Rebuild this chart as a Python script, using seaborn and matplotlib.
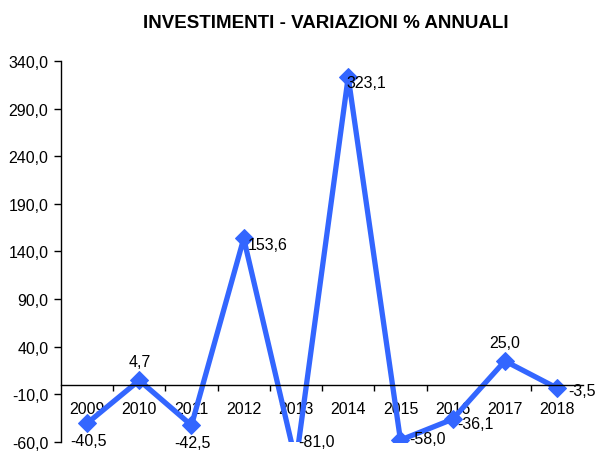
import matplotlib
matplotlib.use("Agg")
import matplotlib.pyplot as plt
import seaborn as sns
import pandas as pd
from matplotlib.ticker import FixedLocator, FuncFormatter

years = ["2009", "2010", "2011", "2012", "2013", "2014", "2015", "2016", "2017", "2018"]
values = [-40.5, 4.7, -42.5, 153.6, -81.0, 323.1, -58.0, -36.1, 25.0, -3.5]
yticks = [-60, -10, 40, 90, 140, 190, 240, 290, 340]
# label placement per point: (dx, dy, ha, va)
label_pos = [(1, -7, "center", "top"), (0, 8, "center", "bottom"), (1, -7, "center", "top"),
             (3, -4, "left", "center"), (2, 0, "left", "center"), (-1, -4, "left", "center"),
             (6, 1, "left", "center"), (3, -3, "left", "center"), (0, 8, "center", "bottom"),
             (8, -2, "left", "center")]

sns.set_style("white")
plt.rcParams["font.family"] = ["Liberation Sans", "DejaVu Sans"]
plt.rcParams["text.color"] = "black"

df = pd.DataFrame({"x": range(len(years)), "v": values})

fig = plt.figure(figsize=(5.97, 4.52), dpi=100)
ax = fig.add_axes([0.102, 0.02, 0.875, 0.843])
sns.lineplot(data=df, x="x", y="v", ax=ax, color="#3366FF", linewidth=3.8,
             marker="D", markersize=9, markeredgecolor="#3366FF", clip_on=True)

ax.set_xlim(-0.5, len(years) - 0.5)
ax.set_ylim(-60, 340)
ax.set_yticks(yticks)
ax.yaxis.set_major_formatter(FuncFormatter(lambda v, p: f"{v:.1f}".replace(".", ",")))
ax.tick_params(axis="y", left=True, length=5, width=1, direction="out", labelsize=11.5, colors="black", pad=4)

ax.spines["top"].set_visible(False)
ax.spines["right"].set_visible(False)
ax.spines["bottom"].set_position(("data", 0))
ax.spines["left"].set_color("black")
ax.spines["bottom"].set_color("black")
ax.spines["left"].set_linewidth(1)
ax.spines["bottom"].set_linewidth(1)

ax.set_xticks(range(len(years)))
ax.set_xticklabels(years)
ax.xaxis.set_minor_locator(FixedLocator([i + 0.5 for i in range(len(years) - 1)]))
ax.tick_params(axis="x", which="major", length=0, labelsize=11.5, pad=12, colors="black")
ax.tick_params(axis="x", which="minor", bottom=True, length=4, width=1, direction="out", color="black")
ax.set_xlabel("")
ax.set_ylabel("")

for i, v in enumerate(values):
    dx, dy, ha, va = label_pos[i]
    yv = max(v, -60)
    ax.annotate(f"{v:.1f}".replace(".", ","), (i, yv), xytext=(dx, dy), textcoords="offset points",
                ha=ha, va=va, fontsize=11.5, color="black", annotation_clip=False, zorder=5)

fig.text(0.545, 0.948, "INVESTIMENTI - VARIAZIONI % ANNUALI", ha="center", va="center",
         fontsize=13.5, fontweight="bold", color="black")

fig.savefig("out.png", dpi=100)
